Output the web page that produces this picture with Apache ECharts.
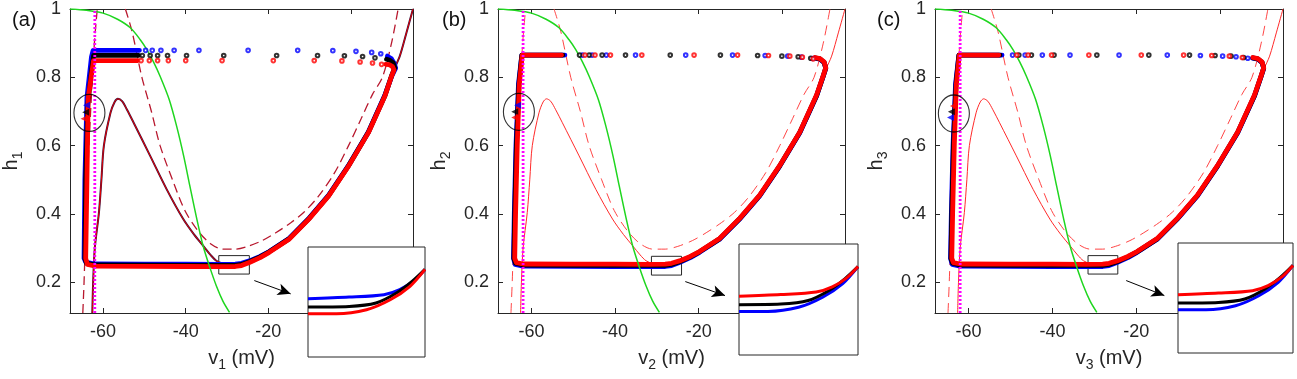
<!DOCTYPE html>
<html>
<head>
<meta charset="utf-8">
<script src="https://cdn.jsdelivr.net/npm/echarts@6/dist/echarts.min.js"></script>
<style>
html, body { margin: 0; padding: 0; background: #fff; }
#chart { width: 1297px; height: 379px; }
</style>
</head>
<body>
<div id="chart"></div>
<script>
// axes
const vRange = [-68, 15]
const hRange = [0.11, 1]
const vTicks = [-60, -40, -20, 0]
const vLabels = [-60, -40, -20]
const hTicks = [0.2, 0.4, 0.6, 0.8, 1]
const panelLetters = ['(a)', '(b)', '(c)']

// steady-state inactivation h_inf (green)
const hInf = [[-68, 1.0], [-64, 0.996], [-60, 0.988], [-56.5, 0.97], [-53.4, 0.945], [-51, 0.91], [-49.4, 0.881],
  [-47.8, 0.845], [-46.2, 0.803], [-44, 0.735], [-42.2, 0.657], [-40.5, 0.57], [-39, 0.482], [-37.4, 0.39],
  [-35.8, 0.307], [-34.2, 0.245], [-32.6, 0.19], [-31, 0.145], [-29.4, 0.112]]

// dashed nullcline, two branches
const dashLeft = [[-64.9, 0.11], [-64.6, 0.2], [-64.2, 0.35], [-63.6, 0.55], [-62.8, 0.75], [-62.1, 0.9], [-61.4, 1.0]]
const dashRight = [[-54.6, 1.0], [-53.0, 0.935], [-50.6, 0.8], [-48.3, 0.7], [-46.2, 0.6], [-43.2, 0.5], [-40.2, 0.41],
  [-37.0, 0.35], [-34.0, 0.313], [-31.0, 0.297], [-28.0, 0.297], [-25.0, 0.305], [-21.5, 0.322], [-18.2, 0.345],
  [-14.5, 0.375], [-11.4, 0.405], [-8.0, 0.45], [-4.0, 0.52], [-0.6, 0.6], [2.5, 0.68], [5.2, 0.75], [7.6, 0.8],
  [9.8, 0.9], [11.4, 1.0]]

// thin solid nullcline
const thinNull = [[-62.6, 0.11], [-62.4, 0.2], [-62.0, 0.3], [-61.0, 0.404], [-60.4, 0.5], [-59.8, 0.6], [-58.2, 0.696],
  [-57.2, 0.728], [-56.4, 0.737], [-55.4, 0.73], [-54.2, 0.705], [-52.6, 0.667], [-48.6, 0.57], [-44.6, 0.472],
  [-40.6, 0.385], [-38, 0.34], [-35.8, 0.307], [-34, 0.28], [-32.6, 0.263], [-31, 0.255], [-29, 0.252], [-27, 0.253],
  [-24.6, 0.258], [-22, 0.272], [-19.8, 0.2876], [-15, 0.326], [-10.2, 0.385], [-5.4, 0.453], [-0.6, 0.54],
  [4.2, 0.638], [8.2, 0.745], [9.8, 0.803], [10.4, 0.823], [11.8, 0.862], [13.4, 0.93], [15.0, 1.0]]

// resting potential (magenta dotted)
const restLine = [[-62, 0.11], [-62, 1]]

// limit cycles, panel (a)
const cycleBlueA = [[-51.2, 0.879], [-62.4, 0.879], [-62.8, 0.86], [-63.9, 0.74], [-64.4, 0.5], [-64.6, 0.27],
  [-64.2, 0.259], [-62, 0.2535], [-50, 0.253], [-40, 0.2528], [-32, 0.2526], [-28, 0.2532], [-26.5, 0.2555],
  [-24.6, 0.2625], [-22, 0.2755], [-19.8, 0.29], [-15, 0.328], [-10.2, 0.387], [-5.4, 0.455], [-0.6, 0.542],
  [4.2, 0.64], [8.2, 0.748], [9.9, 0.805], [10.8, 0.827], [10.4, 0.842], [9.8, 0.854], [8.8, 0.862]]
const cycleBlackA = [[-51.4, 0.864], [-62.3, 0.864], [-62.9, 0.81], [-63.7, 0.72], [-64.2, 0.5], [-64.4, 0.27],
  [-64.0, 0.256], [-62, 0.2505], [-50, 0.2498], [-40, 0.2495], [-32, 0.2492], [-28, 0.2497], [-26.5, 0.2522],
  [-24.6, 0.2602], [-22, 0.2742], [-19.8, 0.289], [-15, 0.327], [-10.2, 0.386], [-5.4, 0.454], [-0.6, 0.541],
  [4.2, 0.639], [8.2, 0.746], [9.8, 0.804], [10.6, 0.828], [10.2, 0.842], [9.4, 0.85], [8.6, 0.853]]
const cycleRedA = [[-51.6, 0.849], [-62.3, 0.849], [-63.6, 0.74], [-63.9, 0.5], [-64.2, 0.27], [-63.8, 0.2525],
  [-62, 0.2475], [-50, 0.2466], [-40, 0.2462], [-32, 0.2458], [-28, 0.2462], [-26.5, 0.249], [-24.6, 0.258],
  [-22, 0.272], [-19.8, 0.2876], [-15, 0.326], [-10.2, 0.385], [-5.4, 0.453], [-0.6, 0.54], [4.2, 0.638],
  [8.2, 0.745], [9.8, 0.803], [10.4, 0.822], [10.0, 0.832], [9.2, 0.837], [8.4, 0.838]]

// limit cycles, panels (b) and (c)
const cycleRedBC = [[-52.8, 0.865], [-62.2, 0.865], [-62.9, 0.78], [-63.4, 0.6], [-63.8, 0.4], [-64.0, 0.27],
  [-63.6, 0.2575], [-62, 0.2535], [-50, 0.253], [-40, 0.2528], [-32, 0.2526], [-28, 0.2532], [-26.5, 0.2555],
  [-24.6, 0.2625], [-22, 0.2755], [-19.8, 0.29], [-15, 0.328], [-10.2, 0.387], [-5.4, 0.455], [-0.6, 0.542],
  [4.2, 0.64], [8.2, 0.748], [9.8, 0.805], [10.4, 0.828], [10.0, 0.845], [9.0, 0.855], [7.8, 0.858]]
const cycleBlackBC = [[-52.5, 0.865], [-62.3, 0.865], [-63.0, 0.78], [-63.6, 0.6], [-64.0, 0.4], [-64.2, 0.27],
  [-63.8, 0.256], [-62, 0.2505], [-50, 0.2498], [-40, 0.2495], [-32, 0.2492], [-28, 0.2497], [-26.5, 0.2522],
  [-24.6, 0.2602], [-22, 0.2742], [-19.8, 0.289], [-15, 0.327], [-10.2, 0.386], [-5.4, 0.454], [-0.6, 0.541],
  [4.2, 0.639], [8.2, 0.746], [9.8, 0.804], [10.4, 0.827], [10.0, 0.844], [9.0, 0.854], [7.8, 0.857]]
const cycleBlueBC = [[-52.0, 0.865], [-62.3, 0.865], [-63.1, 0.78], [-63.7, 0.6], [-64.1, 0.4], [-64.3, 0.27],
  [-63.9, 0.2525], [-62, 0.2475], [-50, 0.2466], [-40, 0.2462], [-32, 0.2458], [-28, 0.2462], [-26.5, 0.249],
  [-24.6, 0.258], [-22, 0.272], [-19.8, 0.2876], [-15, 0.326], [-10.2, 0.385], [-5.4, 0.453], [-0.6, 0.54],
  [4.2, 0.638], [8.2, 0.745], [9.8, 0.803], [10.4, 0.826], [10.0, 0.843], [9.0, 0.853], [7.8, 0.856]]

// sparse samples on the fast upper branch
const blueTopA = [[-49.7, 0.879], [-48.1, 0.879], [-46.0, 0.879], [-42.8, 0.879], [-36.8, 0.879], [-24.9, 0.879],
  [-12.9, 0.879], [-4.4, 0.878], [1.2, 0.876], [5.0, 0.873], [7.2, 0.869]]
const blackTopA = [[-50.5, 0.864], [-48.6, 0.864], [-46.8, 0.864], [-44.4, 0.864], [-39.8, 0.864], [-30.8, 0.864],
  [-18.0, 0.864], [-8.1, 0.864], [-1.6, 0.863], [2.8, 0.861], [5.8, 0.857]]
const redTopA = [[-50.8, 0.849], [-48.8, 0.849], [-46.8, 0.849], [-44.2, 0.849], [-40.0, 0.849], [-31.2, 0.849],
  [-18.8, 0.849], [-8.9, 0.849], [-2.2, 0.848], [2.2, 0.845], [5.2, 0.842], [7.4, 0.838]]
const blueTopB = [[-47.8, 0.865], [-45.5, 0.865], [-42.1, 0.865], [-35.1, 0.865], [-23.1, 0.865], [-11.9, 0.865],
  [-4.1, 0.864], [1.3, 0.862], [4.6, 0.859], [7.2, 0.855]]
const blackTopB = [[-48.5, 0.865], [-46.2, 0.865], [-43.1, 0.865], [-37.5, 0.865], [-26.8, 0.865], [-14.8, 0.865],
  [-5.9, 0.864], [-0.1, 0.862], [3.8, 0.86], [6.8, 0.856]]
const redTopB = [[-47.2, 0.865], [-44.8, 0.865], [-41.1, 0.865], [-33.6, 0.865], [-21.1, 0.865], [-10.7, 0.865],
  [-3.3, 0.864], [1.8, 0.862], [4.8, 0.859], [7.4, 0.854]]
const blueTopC = [[-49.5, 0.865], [-46.5, 0.865], [-42.4, 0.865], [-35.8, 0.865], [-24.1, 0.865], [-12.6, 0.865],
  [-4.7, 0.864], [0.6, 0.862], [3.8, 0.86], [6.6, 0.856]]
const blackTopC = [[-48.0, 0.865], [-45.0, 0.865], [-39.6, 0.865], [-29.4, 0.865], [-17.0, 0.865], [-7.3, 0.865],
  [-1.2, 0.864], [2.6, 0.862], [5.6, 0.858]]
const redTopC = [[-48.5, 0.865], [-45.8, 0.865], [-40.2, 0.865], [-31.3, 0.865], [-18.8, 0.865], [-8.7, 0.865],
  [-2.0, 0.864], [2.2, 0.862], [5.3, 0.858]]

// direction arrowheads inside the ellipse [blue, black, red]
const arrowsA = [[-64.0, 0.718], [-64.2, 0.698], [-64.6, 0.679]]
const arrowsB = [[-63.3, 0.718], [-64.0, 0.699], [-64.0, 0.682]]
const arrowsC = [[-64.3, 0.682], [-64.1, 0.699], [-63.6, 0.716]]
const ellipseCentres = [[-63.3, 0.696], [-63.0, 0.699], [-63.5, 0.694]]

// zoom box and pointer arrow, in (v, h)
const zoomBoxes = [[[-32, 0.224], [-24.6, 0.278]], [[-31.3, 0.221], [-24.1, 0.276]], [[-31.5, 0.224], [-24.4, 0.278]]]
const pointers = [[[-23.4, 0.205], [-14.6, 0.166]], [[-23.2, 0.202], [-13.7, 0.161]], [[-22.4, 0.205], [-13.3, 0.161]]]

// inset (zoomed lower branch): upper / middle / lower trace
const insetRange = { v: [-32, -24.6], h: [0.224, 0.278] }
const insetUpper = [[-32, 0.2526], [-29.4, 0.2534], [-27.2, 0.2546], [-26.2, 0.2571], [-25.3, 0.2615], [-24.6, 0.267]]
const insetMid = [[-32, 0.2485], [-29.4, 0.2488], [-27.7, 0.2505], [-26.4, 0.2554], [-25.4, 0.2612], [-24.6, 0.267]]
const insetLower = [[-32, 0.2452], [-30.2, 0.2452], [-28.3, 0.2472], [-26.8, 0.2521], [-25.55, 0.2587], [-24.6, 0.267]]

const BLUE = '#0000ff'
const BLACK = '#000000'
const RED = '#ff0000'
const AXIS = '#262626'
const FONT = 'Liberation Sans, Arial, sans-serif'

const layout = [
  { left: 66, width: 347, inset: [308, 247, 117, 110], letter: 12 },
  { left: 498, width: 347, inset: [739, 244, 119, 111], letter: 442 },
  { left: 935, width: 348, inset: [1178, 243, 115, 110], letter: 877 }
]

const panelData = [
  {
    cycles: [[cycleBlueA, BLUE], [cycleBlackA, BLACK], [cycleRedA, RED]],
    tops: [[blueTopA, BLUE], [blackTopA, BLACK], [redTopA, RED]],
    arrows: arrowsA, arrowColors: [BLUE, BLACK, RED],
    inset: [[insetUpper, BLUE], [insetMid, BLACK], [insetLower, RED]],
    dark: true
  },
  {
    cycles: [[cycleBlueBC, BLUE], [cycleBlackBC, BLACK], [cycleRedBC, RED]],
    tops: [[blueTopB, BLUE], [blackTopB, BLACK], [redTopB, RED]],
    arrows: arrowsB, arrowColors: [BLUE, BLACK, RED],
    inset: [[insetLower, BLUE], [insetMid, BLACK], [insetUpper, RED]],
    dark: false
  },
  {
    cycles: [[cycleBlueBC, BLUE], [cycleBlackBC, BLACK], [cycleRedBC, RED]],
    tops: [[blueTopC, BLUE], [blackTopC, BLACK], [redTopC, RED]],
    arrows: arrowsC, arrowColors: [BLUE, BLACK, RED],
    inset: [[insetLower, BLUE], [insetMid, BLACK], [insetUpper, RED]],
    dark: false
  }
]

const grids = []
const xAxes = []
const yAxes = []
const series = []
const titles = []

const line = (p, data, color, width, extra) => Object.assign({
  type: 'line', xAxisIndex: 3 * p, yAxisIndex: 3 * p, data, showSymbol: false, silent: true,
  lineStyle: { color, width }, z: 2
}, extra || {})

const nameRich = {
  v: { fontSize: 20, lineHeight: 28, color: AXIS, fontFamily: FONT },
  s: { fontSize: 14, lineHeight: 13, verticalAlign: 'bottom', color: AXIS, fontFamily: FONT }
}

panelData.forEach((pd, p) => {
  const lay = layout[p]
  grids.push({ left: lay.left, top: 9, width: lay.width, height: 304 })
  grids.push({
    left: lay.inset[0], top: lay.inset[1], width: lay.inset[2], height: lay.inset[3],
    show: true, backgroundColor: '#fff', borderColor: AXIS, borderWidth: 1, z: 10
  })

  const tickStyle = { show: true, inside: true, length: 5, lineStyle: { color: AXIS, width: 1 } }
  const sub = String(p + 1)
  xAxes.push({
    type: 'value', gridIndex: 2 * p, position: 'bottom', min: vRange[0], max: vRange[1],
    axisLine: { show: true, onZero: false, lineStyle: { color: AXIS, width: 1 } },
    axisTick: Object.assign({ customValues: vTicks }, tickStyle),
    axisLabel: { customValues: vLabels, fontSize: 18, color: AXIS, fontFamily: FONT, margin: 10 },
    splitLine: { show: false },
    name: '{v|v}{s|' + sub + '}{v| (mV)}', nameLocation: 'middle', nameGap: 31,
    nameTextStyle: { color: AXIS, fontFamily: FONT, rich: nameRich }
  })
  xAxes.push({
    type: 'value', gridIndex: 2 * p, position: 'top', min: vRange[0], max: vRange[1],
    axisLine: { show: true, onZero: false, lineStyle: { color: AXIS, width: 1 } },
    axisTick: Object.assign({ customValues: vTicks }, tickStyle),
    axisLabel: { show: false }, splitLine: { show: false }
  })
  xAxes.push({ type: 'value', gridIndex: 2 * p + 1, min: insetRange.v[0], max: insetRange.v[1], show: false, z: 10 })

  yAxes.push({
    type: 'value', gridIndex: 2 * p, position: 'left', min: hRange[0], max: hRange[1],
    axisLine: { show: true, onZero: false, lineStyle: { color: AXIS, width: 1 } },
    axisTick: Object.assign({ customValues: hTicks }, tickStyle),
    axisLabel: {
      customValues: hTicks, fontSize: 18, color: AXIS, fontFamily: FONT, margin: 9,
      formatter: v => (v === 1 ? '1' : v.toFixed(1))
    },
    splitLine: { show: false },
    name: '{v|h}{s|' + sub + '}', nameLocation: 'middle', nameGap: 45,
    nameTextStyle: { color: AXIS, fontFamily: FONT, rich: nameRich }
  })
  yAxes.push({
    type: 'value', gridIndex: 2 * p, position: 'right', min: hRange[0], max: hRange[1],
    axisLine: { show: true, onZero: false, lineStyle: { color: AXIS, width: 1 } },
    axisTick: Object.assign({ customValues: hTicks }, tickStyle),
    axisLabel: { show: false }, splitLine: { show: false }
  })
  yAxes.push({ type: 'value', gridIndex: 2 * p + 1, min: insetRange.h[0], max: insetRange.h[1], show: false, z: 10 })

  // nullclines
  const dashColor = pd.dark ? '#b8182e' : '#ff4545'
  const dashWidth = pd.dark ? 1.3 : 1
  const dashStyle = { color: dashColor, width: dashWidth, type: pd.dark ? [9, 5] : [10, 6] }
  series.push(line(p, dashLeft, dashColor, dashWidth, { smooth: 0.3, lineStyle: dashStyle }))
  series.push(line(p, dashRight, dashColor, dashWidth, { smooth: 0.3, lineStyle: dashStyle }))
  if (pd.dark) series.push(line(p, thinNull, '#3a1440', 2, { smooth: 0.3 }))
  series.push(line(p, thinNull, pd.dark ? '#e80000' : '#ff2a2a', 1, { smooth: 0.3 }))

  // limit cycles
  pd.cycles.forEach(([data, color]) => {
    series.push(line(p, data, color, 4.8, { z: 3, lineStyle: { color, width: 4.8, join: 'round', cap: 'round' } }))
  })

  // green h_inf and magenta rest line
  series.push(line(p, hInf, '#1fd61f', 1.5, { smooth: 0.3, z: 4 }))
  series.push(line(p, restLine, '#ff00ff', 2.8, { z: 4, lineStyle: { color: '#ff00ff', width: 2.8, type: [2, 2] } }))

  // sparse samples on the upper branch
  pd.tops.forEach(([data, color]) => {
    series.push({
      type: 'scatter', xAxisIndex: 3 * p, yAxisIndex: 3 * p, data, silent: true, z: 5,
      symbol: 'emptyCircle', symbolSize: 3.6, itemStyle: { color, borderColor: color, borderWidth: 0.9 }
    })
  })

  // arrowheads
  series.push({
    type: 'scatter', xAxisIndex: 3 * p, yAxisIndex: 3 * p, silent: true, z: 6,
    symbol: 'triangle', symbolRotate: 90, symbolSize: [7, 7],
    data: pd.arrows.map((pt, i) => ({ value: pt, itemStyle: { color: pd.arrowColors[i] } }))
  })

  // ellipse + zoom box + pointer
  series.push({
    type: 'scatter', xAxisIndex: 3 * p, yAxisIndex: 3 * p, silent: true, z: 6,
    symbol: 'circle', symbolSize: [31, 37],
    itemStyle: { color: 'rgba(0,0,0,0)', borderColor: '#000', borderWidth: 1.2 },
    data: [ellipseCentres[p]],
    markArea: {
      silent: true, itemStyle: { color: 'rgba(0,0,0,0)', borderColor: AXIS, borderWidth: 1 },
      data: [[{ coord: zoomBoxes[p][0] }, { coord: zoomBoxes[p][1] }]]
    },
    markLine: {
      silent: true, symbol: ['none', 'arrow'], symbolSize: [9, 13],
      lineStyle: { color: '#000', width: 1, type: 'solid' }, label: { show: false },
      data: [[{ coord: pointers[p][0] }, { coord: pointers[p][1] }]]
    }
  })

  // inset traces
  pd.inset.forEach(([data, color]) => {
    series.push({
      type: 'line', xAxisIndex: 3 * p + 2, yAxisIndex: 3 * p + 2, data, showSymbol: false, silent: true,
      smooth: 0.3, z: 12, lineStyle: { color, width: 3 }
    })
  })

  titles.push({
    text: panelLetters[p], left: lay.letter, top: 10, padding: 0,
    textStyle: { fontSize: 20, fontWeight: 'normal', color: '#111', fontFamily: FONT }
  })
})

const chart = echarts.init(document.getElementById('chart'))
chart.setOption({
  animation: false,
  backgroundColor: '#fff',
  title: titles,
  grid: grids,
  xAxis: xAxes,
  yAxis: yAxes,
  series
})
</script>
</body>
</html>
